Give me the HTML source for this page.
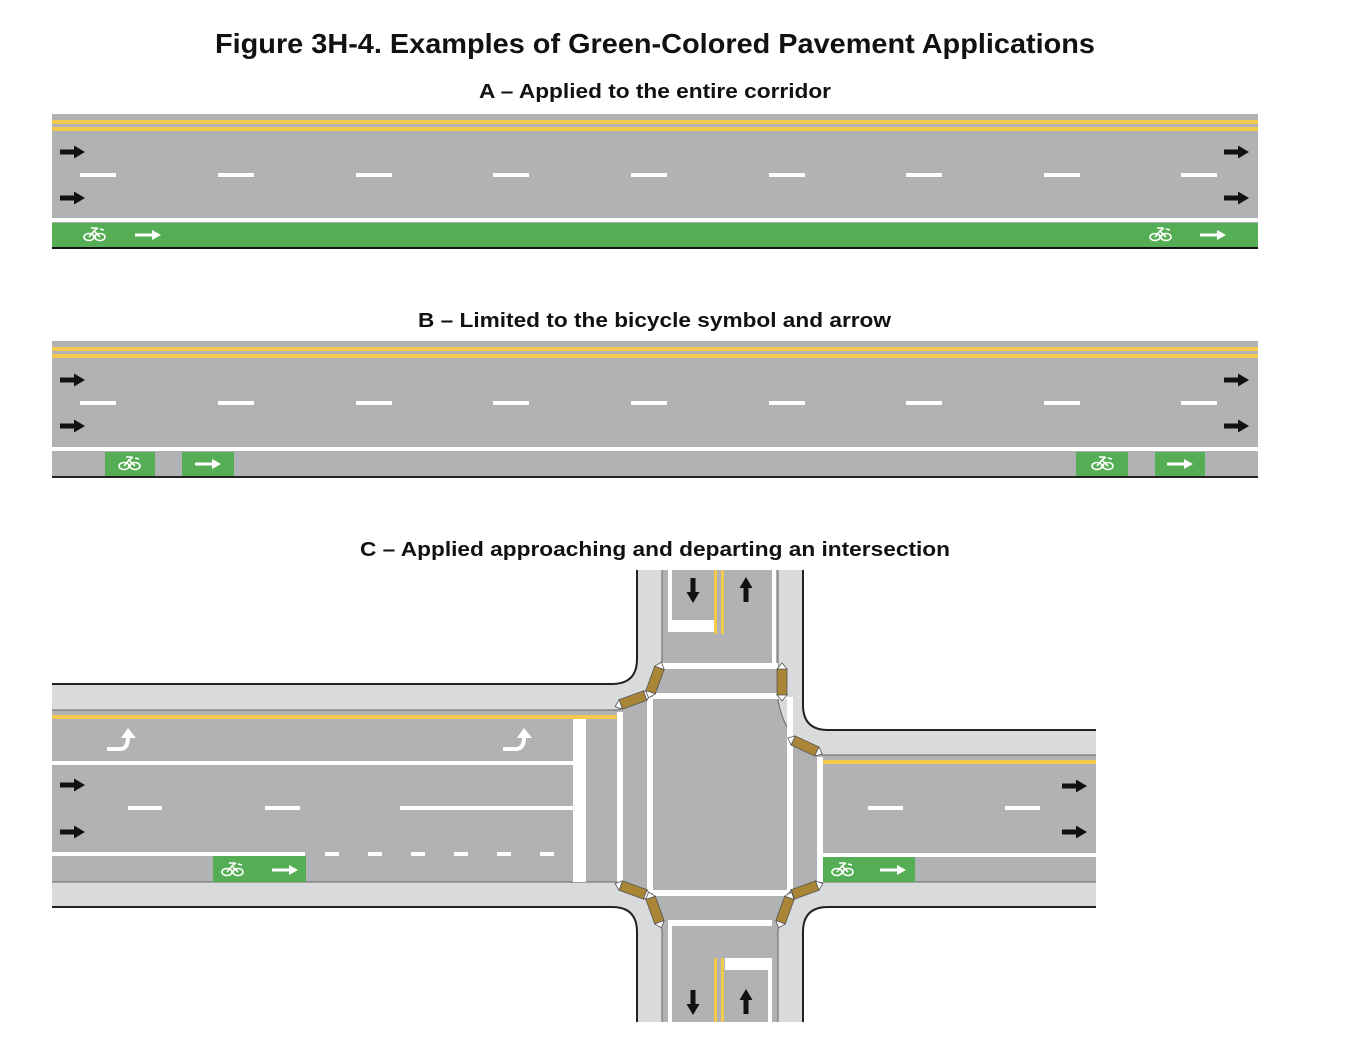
<!DOCTYPE html>
<html><head><meta charset="utf-8"><style>
html,body{margin:0;padding:0;background:#fff;width:1354px;height:1042px;overflow:hidden}
svg{display:block}
text{font-family:"Liberation Sans",Arial,sans-serif;font-weight:bold;fill:#111}
</style></head><body>
<svg width="1354" height="1042" viewBox="0 0 1354 1042" xmlns="http://www.w3.org/2000/svg">
<defs>
<g id="barr"><path d="M0,-2.5 L14,-2.5 L14,-6.5 L25,0 L14,6.5 L14,2.5 L0,2.5 Z" fill="#111"/></g>
<g id="warr"><path d="M0,-1.5 L17,-1.5 L17,-5 L26,0 L17,5 L17,1.5 L0,1.5 Z" fill="#fff"/></g>
<g id="bike" fill="none" stroke="#fff" stroke-width="1.6"><ellipse cx="-5" cy="3" rx="5" ry="3.5"/><ellipse cx="6" cy="3" rx="5" ry="3.5"/><path d="M-5,3 L0,-3 L6,3 M0,-3 L4,-6 M-3,-6 L3,-6 M6,-5 L10,-4"/></g>
<g id="ramp"><rect x="-13" y="-5" width="26" height="10" fill="#a98635" stroke="#555" stroke-width="0.8"/><path d="M-13,-5 L-19,0 L-13,5 Z M13,-5 L19,0 L13,5 Z" fill="#fff" stroke="#555" stroke-width="0.8"/></g>
</defs>

<text x="215" y="53" font-size="28" textLength="880" lengthAdjust="spacingAndGlyphs">Figure 3H-4.  Examples of Green-Colored Pavement Applications</text>
<text x="479" y="98" font-size="20" textLength="352" lengthAdjust="spacingAndGlyphs">A – Applied to the entire corridor</text>
<text x="418" y="327" font-size="20" textLength="473" lengthAdjust="spacingAndGlyphs">B – Limited to the bicycle symbol and arrow</text>
<text x="360" y="556" font-size="20" textLength="590" lengthAdjust="spacingAndGlyphs">C – Applied approaching and departing an intersection</text>

<!-- A -->
<rect x="52" y="114" width="1206" height="135" fill="#b1b2b4"/>
<rect x="52" y="120" width="1206" height="4" fill="#f4c84c"/>
<rect x="52" y="127" width="1206" height="4" fill="#f4c84c"/>
<g fill="#fff">
<rect x="80" y="173" width="36" height="4"/><rect x="218" y="173" width="36" height="4"/><rect x="356" y="173" width="36" height="4"/><rect x="493" y="173" width="36" height="4"/><rect x="631" y="173" width="36" height="4"/><rect x="769" y="173" width="36" height="4"/><rect x="906" y="173" width="36" height="4"/><rect x="1044" y="173" width="36" height="4"/><rect x="1181" y="173" width="36" height="4"/>
</g>
<use href="#barr" x="60" y="152"/><use href="#barr" x="60" y="198"/>
<use href="#barr" x="1224" y="152"/><use href="#barr" x="1224" y="198"/>
<rect x="52" y="218" width="1206" height="4" fill="#fff"/>
<rect x="52" y="223" width="1206" height="25" fill="#55ad55"/>
<rect x="52" y="247" width="1206" height="2" fill="#111"/>
<use href="#bike" x="94" y="234"/><use href="#warr" x="135" y="235"/>
<use href="#bike" x="1160" y="234"/><use href="#warr" x="1200" y="235"/>

<!-- B -->
<rect x="52" y="341" width="1206" height="137" fill="#b1b2b4"/>
<rect x="52" y="347" width="1206" height="4" fill="#f4c84c"/>
<rect x="52" y="354" width="1206" height="4" fill="#f4c84c"/>
<g fill="#fff">
<rect x="80" y="401" width="36" height="4"/><rect x="218" y="401" width="36" height="4"/><rect x="356" y="401" width="36" height="4"/><rect x="493" y="401" width="36" height="4"/><rect x="631" y="401" width="36" height="4"/><rect x="769" y="401" width="36" height="4"/><rect x="906" y="401" width="36" height="4"/><rect x="1044" y="401" width="36" height="4"/><rect x="1181" y="401" width="36" height="4"/>
</g>
<use href="#barr" x="60" y="380"/><use href="#barr" x="60" y="426"/>
<use href="#barr" x="1224" y="380"/><use href="#barr" x="1224" y="426"/>
<rect x="52" y="447" width="1206" height="4" fill="#fff"/>
<g fill="#55ad55"><rect x="105" y="452" width="50" height="25"/><rect x="182" y="452" width="52" height="25"/><rect x="1076" y="452" width="52" height="25"/><rect x="1155" y="452" width="50" height="25"/></g>
<rect x="52" y="476" width="1206" height="2" fill="#222"/>
<use href="#bike" x="129" y="463"/><use href="#warr" x="195" y="464"/>
<use href="#bike" x="1102" y="463"/><use href="#warr" x="1167" y="464"/>

<!-- C sidewalks -->
<path d="M52,684 L612,684 Q637,684 637,659 L637,570 L803,570 L803,705 Q803,730 828,730 L1096,730 L1096,907 L828,907 Q803,907 803,932 L803,1022 L637,1022 L637,932 Q637,907 612,907 L52,907 Z" fill="#d9dadb"/>
<g fill="none" stroke="#222" stroke-width="2">
<path d="M52,684 L612,684 Q637,684 637,659 L637,570"/>
<path d="M803,570 L803,705 Q803,730 828,730 L1096,730"/>
<path d="M1096,907 L828,907 Q803,907 803,932 L803,1022"/>
<path d="M637,1022 L637,932 Q637,907 612,907 L52,907"/>
</g>
<!-- asphalt -->
<path d="M52,710 L617,710 Q652,702 662,660 L662,570 L778,570 L778,700 Q786,745 823,755 L1096,755 L1096,882 L823,882 Q786,890 778,930 L778,1022 L662,1022 L662,930 Q654,890 617,882 L52,882 Z" fill="#b1b2b4"/>
<g fill="none" stroke="#666" stroke-width="1">
<path d="M52,710 L617,710 Q652,702 662,660 L662,570"/>
<path d="M778,570 L778,700 Q786,745 823,755 L1096,755"/>
<path d="M1096,882 L823,882 Q786,890 778,930 L778,1022"/>
<path d="M662,1022 L662,930 Q654,890 617,882 L52,882"/>
</g>

<!-- left road markings -->
<rect x="52" y="715" width="565" height="4" fill="#f4c84c"/>
<rect x="52" y="761" width="521" height="4" fill="#fff"/>
<rect x="128" y="806" width="34" height="4" fill="#fff"/><rect x="265" y="806" width="35" height="4" fill="#fff"/><rect x="400" y="806" width="173" height="4" fill="#fff"/>
<rect x="52" y="852" width="253" height="4" fill="#fff"/>
<g fill="#fff"><rect x="325" y="852" width="14" height="4"/><rect x="368" y="852" width="14" height="4"/><rect x="411" y="852" width="14" height="4"/><rect x="454" y="852" width="14" height="4"/><rect x="497" y="852" width="14" height="4"/><rect x="540" y="852" width="14" height="4"/></g>
<rect x="573" y="719" width="13" height="163" fill="#fff"/>
<rect x="213" y="856" width="93" height="26" fill="#55ad55"/>
<use href="#bike" x="232" y="869"/><use href="#warr" x="272" y="870"/>
<use href="#barr" x="60" y="785"/><use href="#barr" x="60" y="832"/>
<g fill="none" stroke="#fff" stroke-width="4"><path d="M107,749 L120,749 Q128,749 128,737"/><path d="M503,749 L516,749 Q524,749 524,737"/></g>
<g fill="#fff"><path d="M121,738 L128,728 L136,738 Z"/><path d="M517,738 L524,728 L532,738 Z"/></g>

<!-- crosswalk lines -->
<g fill="#fff">
<rect x="617" y="712" width="6" height="170"/><rect x="647" y="697" width="6" height="196"/>
<rect x="787" y="697" width="6" height="196"/><rect x="817" y="757" width="6" height="125"/>
<rect x="662" y="663" width="116" height="6"/><rect x="653" y="693" width="134" height="6"/>
<rect x="653" y="890" width="134" height="6"/><rect x="668" y="920" width="104" height="6"/>
</g>

<!-- top road markings -->
<rect x="668" y="620" width="46" height="12" fill="#fff"/>
<rect x="668" y="570" width="4" height="62" fill="#fff"/>
<rect x="714" y="570" width="3" height="64" fill="#f4c84c"/><rect x="721" y="570" width="3" height="64" fill="#f4c84c"/>
<rect x="772" y="570" width="4" height="95" fill="#fff"/>
<g transform="translate(693,578) rotate(90)"><use href="#barr"/></g>
<g transform="translate(746,602) rotate(-90)"><use href="#barr"/></g>

<!-- bottom road markings -->
<rect x="725" y="958" width="47" height="12" fill="#fff"/>
<rect x="768" y="958" width="4" height="64" fill="#fff"/>
<rect x="714" y="958" width="3" height="64" fill="#f4c84c"/><rect x="721" y="958" width="3" height="64" fill="#f4c84c"/>
<rect x="668" y="926" width="4" height="96" fill="#fff"/>
<g transform="translate(693,990) rotate(90)"><use href="#barr"/></g>
<g transform="translate(746,1014) rotate(-90)"><use href="#barr"/></g>

<!-- right road markings -->
<rect x="823" y="760" width="273" height="4" fill="#f4c84c"/>
<rect x="868" y="806" width="35" height="4" fill="#fff"/><rect x="1005" y="806" width="35" height="4" fill="#fff"/>
<rect x="823" y="853" width="273" height="4" fill="#fff"/>
<rect x="823" y="857" width="92" height="25" fill="#55ad55"/>
<use href="#bike" x="842" y="869"/><use href="#warr" x="880" y="870"/>
<use href="#barr" x="1062" y="786"/><use href="#barr" x="1062" y="832"/>

<!-- ramps -->
<use href="#ramp" transform="translate(633,700) rotate(-20)"/>
<use href="#ramp" transform="translate(655,680) rotate(-70)"/>
<use href="#ramp" transform="translate(782,682) rotate(90)"/>
<use href="#ramp" transform="translate(805,746) rotate(25)"/>
<use href="#ramp" transform="translate(633,890) rotate(20)"/>
<use href="#ramp" transform="translate(655,910) rotate(70)"/>
<use href="#ramp" transform="translate(805,890) rotate(-20)"/>
<use href="#ramp" transform="translate(785,910) rotate(-70)"/>
</svg>
</body></html>
